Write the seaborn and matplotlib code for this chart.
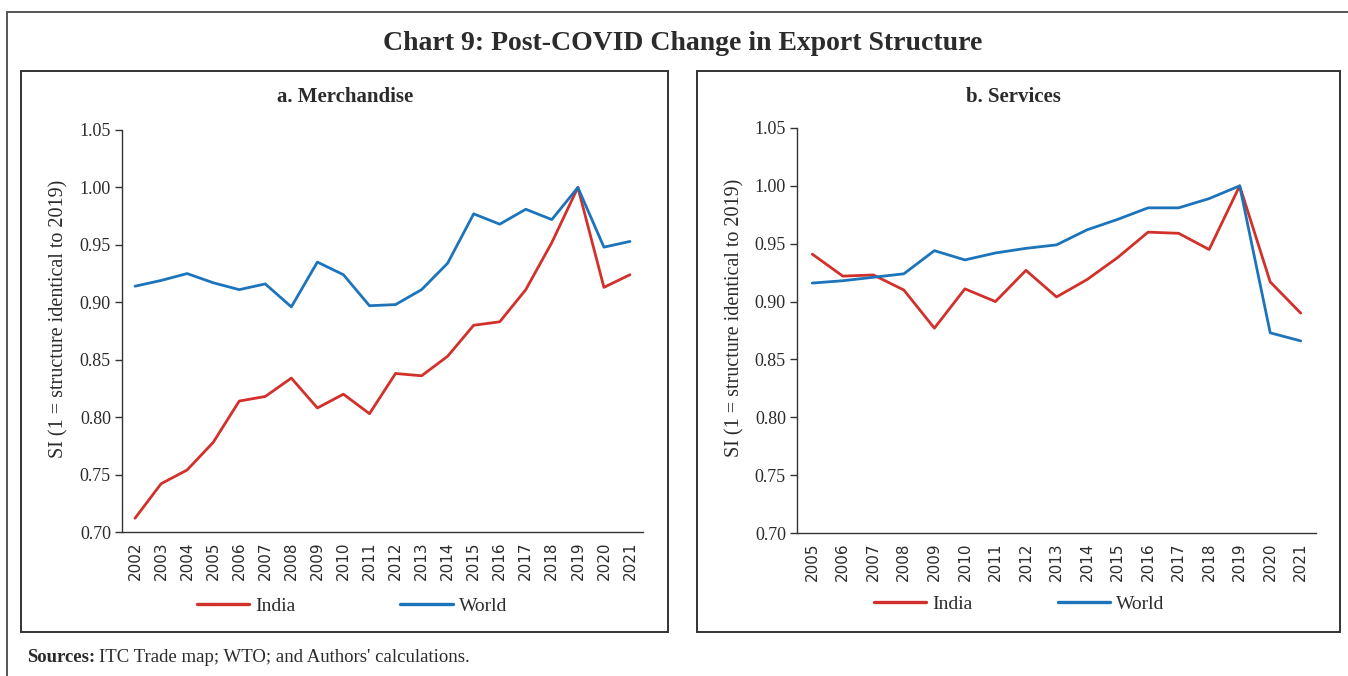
import matplotlib
matplotlib.use("Agg")
import numpy as np
import pandas as pd
import matplotlib.pyplot as plt
import seaborn as sns
from matplotlib.patches import Rectangle
from matplotlib.lines import Line2D
from matplotlib.ticker import FixedLocator

# ---- data -------------------------------------------------------------
merch_years = ["2002", "2003", "2004", "2005", "2006", "2007", "2008", "2009", "2010", "2011",
               "2012", "2013", "2014", "2015", "2016", "2017", "2018", "2019", "2020", "2021"]
merch_india = [0.712, 0.742, 0.754, 0.778, 0.814, 0.818, 0.834, 0.808, 0.820, 0.803,
               0.838, 0.836, 0.853, 0.880, 0.883, 0.911, 0.952, 1.000, 0.913, 0.924]
merch_world = [0.914, 0.919, 0.925, 0.917, 0.911, 0.916, 0.896, 0.935, 0.924, 0.897,
               0.898, 0.911, 0.934, 0.977, 0.968, 0.981, 0.972, 1.000, 0.948, 0.953]

serv_years = ["2005", "2006", "2007", "2008", "2009", "2010", "2011", "2012", "2013",
              "2014", "2015", "2016", "2017", "2018", "2019", "2020", "2021"]
serv_india = [0.941, 0.922, 0.923, 0.910, 0.877, 0.911, 0.900, 0.927, 0.904,
              0.919, 0.938, 0.960, 0.959, 0.945, 1.000, 0.917, 0.890]
serv_world = [0.916, 0.918, 0.921, 0.924, 0.944, 0.936, 0.942, 0.946, 0.949,
              0.962, 0.971, 0.981, 0.981, 0.989, 1.000, 0.873, 0.866]

y_ticks = [0.70, 0.75, 0.80, 0.85, 0.90, 0.95, 1.00, 1.05]
series_names = ["India", "World"]
palette = {"India": "#D2302A", "World": "#1C74BB"}

# ---- style --------------------------------------------------------------
sns.set_style("white")
plt.rcParams["font.family"] = ["Liberation Serif", "DejaVu Serif"]
TXT = "#2b2b2b"
EDGE = "#333333"

W, H = 1348, 676
fig = plt.figure(figsize=(W / 100, H / 100), dpi=100)


def fx(px):
    return px / W


def fy(py):
    return 1 - py / H


def frame(fig, x0, y0, x1, y1, lw=1.4):
    fig.add_artist(Rectangle((fx(x0), fy(y1)), fx(x1) - fx(x0), fy(y0) - fy(y1),
                             transform=fig.transFigure, fill=False,
                             edgecolor=EDGE, linewidth=lw))


# outer frame: top and left rules only
fig.add_artist(Line2D([fx(7), 1.0], [fy(12), fy(12)], transform=fig.transFigure,
                      color="#555555", lw=1.4))
fig.add_artist(Line2D([fx(7), fx(7)], [fy(12), 0.0], transform=fig.transFigure,
                      color="#555555", lw=1.4))

fig.text(fx(683), fy(44), "Chart 9: Post-COVID Change in Export Structure",
         ha="center", va="center", fontsize=20, fontweight="bold", color=TXT)

# panel boxes
frame(fig, 21, 71, 668, 632)
frame(fig, 697, 71, 1340, 632)


def panel(rect, years, india, world, title, title_x, leg_xy, colspace):
    ax = fig.add_axes(rect)
    df = pd.DataFrame({
        "Year": years * 2,
        "SI": india + world,
        "Series": ["India"] * len(years) + ["World"] * len(years),
    })
    sns.lineplot(data=df, x="Year", y="SI", hue="Series", hue_order=series_names,
                 palette=palette, linewidth=2.0, ax=ax, legend=False, sort=False)
    n = len(years)
    ax.set_xlim(-0.5, n - 0.5)
    ax.set_ylim(0.70, 1.05)
    ax.set_yticks(y_ticks)
    ax.set_yticklabels([f"{v:.2f}" for v in y_ticks], fontsize=13, color=TXT)
    ax.set_xticks(range(n))
    ax.set_xticklabels(years, rotation=90, fontsize=11, color=TXT,
                       family=["DejaVu Sans"])
    ax.xaxis.set_minor_locator(FixedLocator(np.arange(-0.5, n, 1.0)))
    ax.tick_params(axis="x", which="major", length=0, pad=7)
    ax.tick_params(axis="x", which="minor", length=5, width=1, color=EDGE, direction="out")
    ax.tick_params(axis="y", which="major", length=5, width=1, color=EDGE,
                   direction="out", pad=3, left=True)
    for s in ["top", "right"]:
        ax.spines[s].set_visible(False)
    for s in ["left", "bottom"]:
        ax.spines[s].set_color(EDGE)
        ax.spines[s].set_linewidth(1.0)
    ax.set_xlabel("")
    ax.set_ylabel("SI (1 = structure identical to 2019)", fontsize=14.5, color=TXT)
    ax.yaxis.set_label_coords(-0.102, 0.53)
    ax.patch.set_alpha(0)

    fig.text(fx(title_x), fy(97), title, ha="center", va="center",
             fontsize=15, fontweight="bold", color=TXT)

    handles = [Line2D([], [], color=palette[k], lw=2.4) for k in series_names]
    fig.legend(handles, series_names, loc="center",
               bbox_to_anchor=(fx(leg_xy[0]), fy(leg_xy[1])),
               bbox_transform=fig.transFigure, ncol=2, frameon=False,
               fontsize=14, handlelength=2.7, handletextpad=0.3,
               columnspacing=colspace, labelcolor=TXT)
    return ax


panel([fx(122), fy(532), fx(643) - fx(122), fy(130) - fy(532)],
      merch_years, merch_india, merch_world, "a. Merchandise", 345, (352, 606), 5.4)
panel([fx(797), fy(533), fx(1316) - fx(797), fy(128) - fy(533)],
      serv_years, serv_india, serv_world, "b. Services", 1013, (1019, 604), 4.4)

# source note: bold lead-in followed by regular text
t1 = fig.text(fx(27), fy(658), "Sources:", ha="left", va="center",
              fontsize=13.5, fontweight="bold", color=TXT)
fig.canvas.draw()
bb = t1.get_window_extent(renderer=fig.canvas.get_renderer())
fig.text((bb.x1 + 4) / W, fy(658), "ITC Trade map; WTO; and Authors' calculations.",
         ha="left", va="center", fontsize=13.5, color=TXT)

fig.savefig("out.png", dpi=100, facecolor="white")
